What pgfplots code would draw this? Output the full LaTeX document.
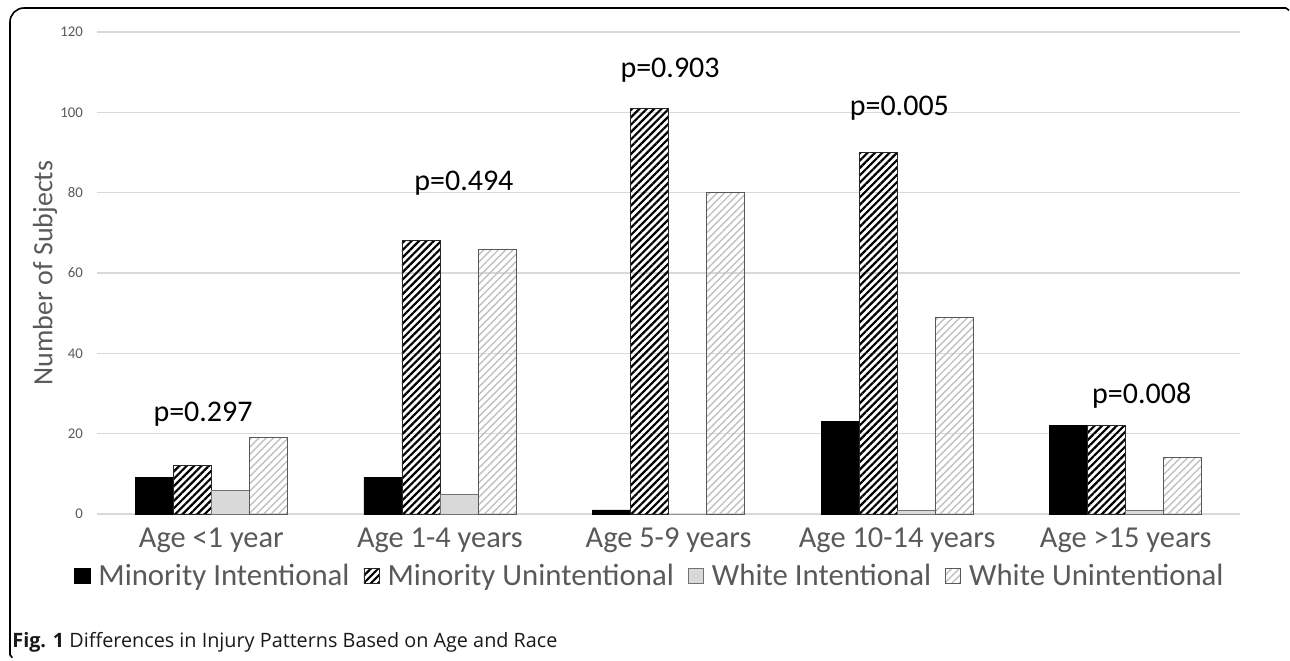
\documentclass[border=0pt]{standalone}
\usepackage{fontspec}
\setmainfont{Carlito}
\newfontfamily\capfont{Open Sans}
\usepackage{pgfplots}
\pgfplotsset{compat=1.18}
\usetikzlibrary{patterns.meta}
\definecolor{txtgrey}{HTML}{595959}
\definecolor{gridgrey}{HTML}{D9D9D9}
\definecolor{lightbar}{HTML}{D9D9D9}
\definecolor{hatchgrey}{HTML}{C0C0C0}

\begin{document}
\begin{tikzpicture}
\useasboundingbox (0,0) rectangle (645pt,330pt);
% figure frame
\draw[line width=0.8pt, rounded corners=7pt] (5pt,2.5pt) -- (5pt,326pt) -- (643pt,326pt);
\draw[line width=0.8pt] (643pt,326pt) -- (644.5pt,324.8pt);
\draw[line width=0.8pt] (5pt,2.5pt) -- (6.2pt,1.2pt);

\begin{axis}[
    at={(48.5pt,73pt)}, anchor=south west,
    scale only axis,
    width=571.5pt, height=241pt,
    ybar, bar width=19pt,
    legend image code/.code={\draw[#1] (0pt,-3.8pt) rectangle (7.6pt,3.8pt);},
    xmin=-0.5, xmax=4.5,
    ymin=0, ymax=120,
    ytick={0,20,40,60,80,100,120},
    xtick={0,1,2,3,4},
    xticklabels={Age <1 year, Age 1-4 years, Age 5-9 years, Age 10-14 years, Age >15 years},
    major tick length=0pt,
    axis line style={draw=none},
    ymajorgrids=true,
    grid style={gridgrey, line width=0.6pt},
    /pgf/number format/assume math mode=true,
    yticklabel style={font=\fontsize{7.4}{8}\selectfont, text=txtgrey, xshift=-3.5pt},
    xticklabel style={font=\fontsize{15.2}{17}\selectfont, text=txtgrey, yshift=-3.5pt},
    ylabel={Number of Subjects},
    ylabel style={at={(axis description cs:-0.0455,0.5)}, anchor=center,
        font=\fontsize{14}{16}\selectfont, text=txtgrey},
    legend columns=4,
    legend style={at={(axis description cs:0.4847,-0.1285)}, anchor=center,
        draw=none, fill=none, font=\fontsize{15.4}{17}\selectfont, text=txtgrey,
        /tikz/every odd column/.append style={column sep=2pt},
        /tikz/every even column/.append style={column sep=5pt}},
]

\addplot[fill=black, draw=black, bar shift=-28.5pt]
coordinates {(0,9)(1,9)(2,1)(3,23)(4,22)};
\addlegendentry{Minority Intentional}

\addplot[pattern={Lines[angle=45,distance=2.6pt,line width=1.1pt]}, pattern color=black,
    draw=black!85, bar shift=-9.5pt]
coordinates {(0,12)(1,68)(2,101)(3,90)(4,22)};
\addlegendentry{Minority Unintentional}

\addplot[fill=lightbar, draw=black!55, bar shift=9.5pt]
coordinates {(0,6)(1,5)(2,0)(3,1)(4,1)};
\addlegendentry{White Intentional}

\addplot[pattern={Lines[angle=45,distance=2.6pt,line width=0.7pt]}, pattern color=hatchgrey,
    draw=black!65, bar shift=28.5pt]
coordinates {(0,19)(1,66)(2,80)(3,49)(4,14)};
\addlegendentry{White Unintentional}

\node[font=\fontsize{15}{16}\selectfont] at (axis cs:-0.036,24.9) {p=0.297};
\node[font=\fontsize{15}{16}\selectfont] at (axis cs:1.105,82.4) {p=0.494};
\node[font=\fontsize{15}{16}\selectfont] at (axis cs:2.007,110.5) {p=0.903};
\node[font=\fontsize{15}{16}\selectfont] at (axis cs:3.01,101) {p=0.005};
\node[font=\fontsize{15}{16}\selectfont] at (axis cs:4.07,29.4) {p=0.008};
\end{axis}

\node[anchor=base west, font=\capfont\fontsize{9.9}{11}\selectfont, text=black!90, inner sep=0pt]
    at (6pt,6.5pt) {\textbf{Fig. 1} Differences in Injury Patterns Based on Age and Race};
\end{tikzpicture}
\end{document}
